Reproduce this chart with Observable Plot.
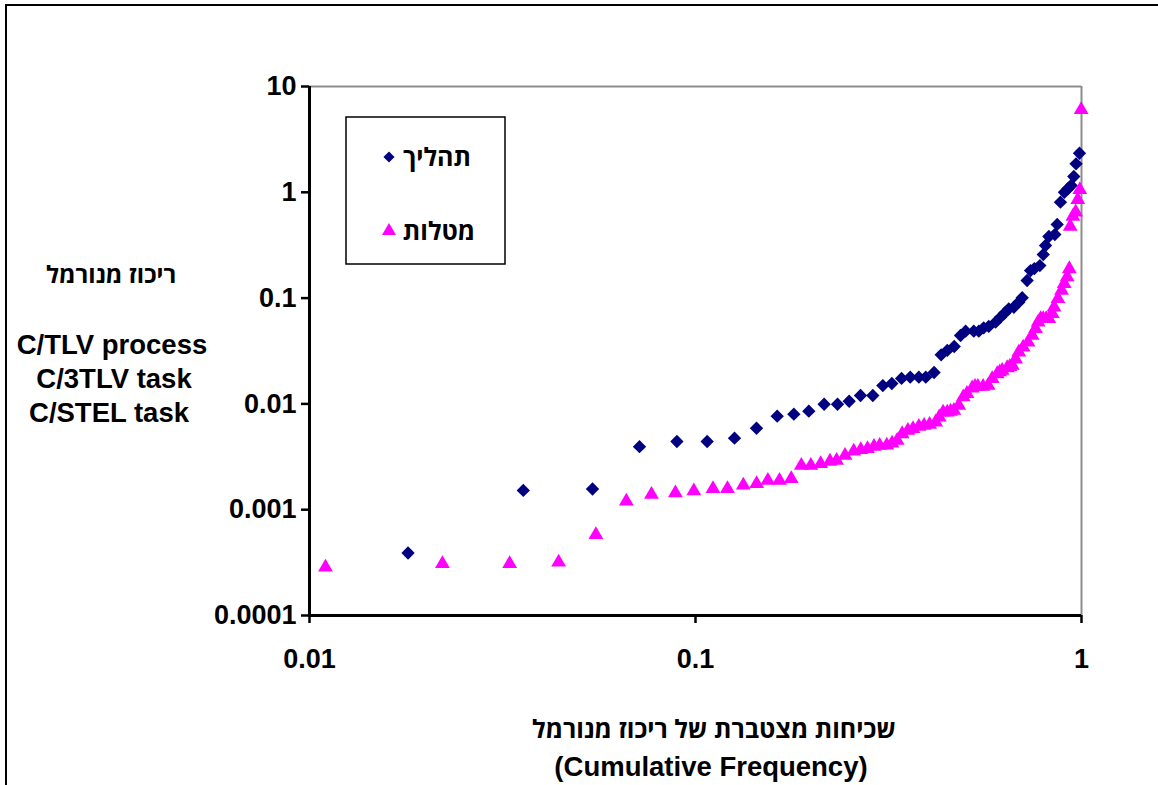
<!DOCTYPE html>
<html>
<head>
<meta charset="utf-8">
<script src="https://cdn.jsdelivr.net/npm/d3@7"></script>
<script src="https://cdn.jsdelivr.net/npm/@observablehq/plot@0.6"></script>
<style>
  html, body { margin: 0; padding: 0; background: #fff; }
  #chart svg { display: block; }
</style>
</head>
<body>
<div id="chart"></div>
<script>
// ---- Data ----
const seriesNames = ["תהליך", "מטלות"];

// Series 1: process (navy diamonds)
const processX = [0.0180, 0.0358, 0.0541, 0.0716, 0.0895, 0.1072, 0.1262, 0.1439, 0.1628, 0.1798,
  0.1966, 0.2154, 0.2333, 0.2501, 0.2676, 0.288, 0.3057, 0.3226, 0.3418, 0.360,
  0.379, 0.395, 0.415, 0.433, 0.449, 0.468, 0.486, 0.501, 0.526, 0.542,
  0.558, 0.575, 0.599, 0.617, 0.632, 0.648, 0.668, 0.688, 0.702, 0.723,
  0.738, 0.755, 0.780, 0.796, 0.807, 0.823, 0.853, 0.865, 0.882, 0.903,
  0.922, 0.940, 0.955, 0.968, 0.988];
const processY = [0.00039, 0.00152, 0.00157, 0.00394, 0.00441, 0.00441, 0.00474, 0.00589, 0.00766, 0.0080,
  0.00853, 0.00993, 0.00993, 0.0106, 0.0120, 0.0120, 0.0149, 0.0156, 0.0174, 0.0179,
  0.0179, 0.0179, 0.0198, 0.0291, 0.0320, 0.0349, 0.0443, 0.0487, 0.0487, 0.0487,
  0.0524, 0.0540, 0.0592, 0.0660, 0.0720, 0.0792, 0.0820, 0.0915, 0.1007, 0.1467,
  0.182, 0.190, 0.203, 0.258, 0.314, 0.382, 0.399, 0.497, 0.806, 1.00,
  1.08, 1.16, 1.41, 1.86, 2.34];

// Series 2: task (magenta triangles)
const taskX = [0.0110, 0.0221, 0.0330, 0.0442, 0.0552, 0.0662, 0.0769, 0.0887, 0.0990, 0.111,
  0.121, 0.133, 0.144, 0.154, 0.165, 0.177, 0.188, 0.199, 0.211, 0.223,
  0.232, 0.244, 0.257, 0.268, 0.279, 0.290, 0.300, 0.313, 0.323, 0.333,
  0.343, 0.355, 0.366, 0.379, 0.391, 0.404, 0.419, 0.428, 0.438, 0.449,
  0.458, 0.467, 0.481, 0.494, 0.505, 0.521, 0.530, 0.539, 0.556, 0.573,
  0.587, 0.605, 0.614, 0.623, 0.642, 0.652, 0.662, 0.675, 0.688, 0.706,
  0.727, 0.745, 0.760, 0.772, 0.784, 0.796, 0.810, 0.823, 0.840, 0.849,
  0.869, 0.888, 0.902, 0.918, 0.930, 0.935, 0.950, 0.966, 0.978, 0.990,
  0.998];
const taskY = [0.000286, 0.000308, 0.000308, 0.000319, 0.000579, 0.00120, 0.00139, 0.00144, 0.00150, 0.00158,
  0.00158, 0.00170, 0.00176, 0.00189, 0.00189, 0.00196, 0.00262, 0.00262, 0.00272, 0.00286,
  0.00292, 0.00325, 0.00357, 0.00368, 0.00377, 0.00396, 0.00404, 0.00407, 0.00425, 0.00451,
  0.00521, 0.00561, 0.00582, 0.00611, 0.00625, 0.00638, 0.00672, 0.00750, 0.00835, 0.00835,
  0.00850, 0.00866, 0.00966, 0.0116, 0.0125, 0.0141, 0.0146, 0.0146, 0.0146, 0.0149,
  0.0173, 0.0192, 0.0200, 0.0207, 0.0219, 0.0225, 0.0231, 0.0265, 0.0308, 0.0343,
  0.0383, 0.0443, 0.0513, 0.0592, 0.0637, 0.0637, 0.0637, 0.0637, 0.0710, 0.0820,
  0.0985, 0.118, 0.137, 0.158, 0.189, 0.475, 0.590, 0.649, 0.849, 1.055,
  6.02];

// Axis ticks and labels
const xTicks = [0.01, 0.1, 1];
const xTickLabels = ["0.01", "0.1", "1"];
const yTicks = [0.0001, 0.001, 0.01, 0.1, 1, 10];
const yTickLabels = ["0.0001", "0.001", "0.01", "0.1", "1", "10"];

// Titles
const yTitleLines = ["ריכוז מנורמל", "C/TLV process", "C/3TLV task", "C/STEL task"];
const xTitleLines = ["שכיחות מצטברת של ריכוז מנורמל", "(Cumulative Frequency)"];

// ---- Build tables ----
const processData = processX.map((x, i) => ({x, y: processY[i]}));
const taskData = taskX.map((x, i) => ({x, y: taskY[i]}));

const FONT = "'Liberation Sans', Arial, 'DejaVu Sans', sans-serif";
const HEB_FONT = "'Open Sans', 'DejaVu Sans', sans-serif";
const NAVY = "#000080";
const MAGENTA = "#FF00FF";
const R_DIAMOND = 6;
const R_TRIANGLE = 5.5;

const chart = Plot.plot({
  width: 1158,
  height: 785,
  marginLeft: 309,
  marginRight: 77,
  marginTop: 86,
  marginBottom: 170,
  style: {fontFamily: FONT, fontWeight: "bold", fontSize: "27px", color: "#000", background: "#fff", overflow: "visible"},
  x: {type: "log", domain: [0.01, 1]},
  y: {type: "log", domain: [0.0001, 10]},
  marks: [
    // plot-area frame (gray top / right)
    Plot.ruleY([10], {stroke: "#8c8c8c", strokeWidth: 2}),
    Plot.ruleX([1], {stroke: "#8c8c8c", strokeWidth: 2}),
    // axes ticks and labels
    Plot.axisY(yTicks, {
      tickFormat: d => yTickLabels[yTicks.indexOf(d)],
      tickSize: 8, tickPadding: 5, strokeWidth: 2.5, stroke: "#000",
      fontSize: 27, fontWeight: "bold", label: null
    }),
    Plot.axisX(xTicks, {
      tickFormat: d => xTickLabels[xTicks.indexOf(d)],
      tickSize: 8, tickPadding: 25, strokeWidth: 2.5, stroke: "#000",
      fontSize: 27, fontWeight: "bold", label: null
    }),
    // axis lines (black, left / bottom)
    Plot.ruleX([0.01], {stroke: "#000", strokeWidth: 3}),
    Plot.ruleY([0.0001], {stroke: "#000", strokeWidth: 3}),
    // series
    Plot.dot(processData, {x: "x", y: "y", symbol: "diamond2", r: R_DIAMOND, fill: NAVY, stroke: "none"}),
    Plot.dot(taskData, {x: "x", y: "y", symbol: "triangle", r: R_TRIANGLE, fill: MAGENTA, stroke: "none"})
  ]
});

document.getElementById("chart").appendChild(chart);

// ---- Decorations: outer frame, titles, legend ----
const svg = d3.select(chart);

svg.insert("rect", ":first-child")
  .attr("x", 6).attr("y", 5).attr("width", 1170).attr("height", 800)
  .attr("fill", "#fff").attr("stroke", "#000").attr("stroke-width", 2);

const titleG = svg.append("g")
  .attr("font-weight", "bold").attr("fill", "#000")
  .attr("text-anchor", "middle");

const yTitlePos = [[111, 274], [112, 344], [114, 378], [109, 412]];
yTitleLines.forEach((t, i) => {
  titleG.append("text")
    .attr("x", yTitlePos[i][0]).attr("y", yTitlePos[i][1])
    .attr("dy", "0.36em")
    .attr("font-family", i === 0 ? HEB_FONT : FONT)
    .attr("font-size", i === 0 ? 24 : 27.5)
    .text(t);
});

const xTitlePos = [[714, 729], [711, 766]];
xTitleLines.forEach((t, i) => {
  titleG.append("text")
    .attr("x", xTitlePos[i][0]).attr("y", xTitlePos[i][1])
    .attr("dy", "0.36em")
    .attr("font-family", i === 0 ? HEB_FONT : FONT)
    .attr("font-size", i === 0 ? 25 : 27.5)
    .text(t);
});

// Legend
const leg = svg.append("g").attr("font-weight", "bold");
leg.append("rect")
  .attr("x", 346).attr("y", 117).attr("width", 159).attr("height", 147)
  .attr("fill", "#fff").attr("stroke", "#000").attr("stroke-width", 1.5);

const legendItems = [
  {name: seriesNames[0], symbol: d3.symbolDiamond2, r: 5, color: NAVY, y: 157, tx: 471},
  {name: seriesNames[1], symbol: d3.symbolTriangle, r: 5.2, color: MAGENTA, y: 231, tx: 475}
];
legendItems.forEach(it => {
  leg.append("path")
    .attr("transform", `translate(389,${it.y})`)
    .attr("d", d3.symbol(it.symbol, Math.PI * it.r * it.r)())
    .attr("fill", it.color);
  leg.append("text")
    .attr("x", it.tx).attr("y", it.y).attr("dy", "0.36em")
    .attr("text-anchor", "end").attr("font-family", HEB_FONT)
    .attr("font-size", 25).attr("fill", "#000")
    .text(it.name);
});
</script>
</body>
</html>
